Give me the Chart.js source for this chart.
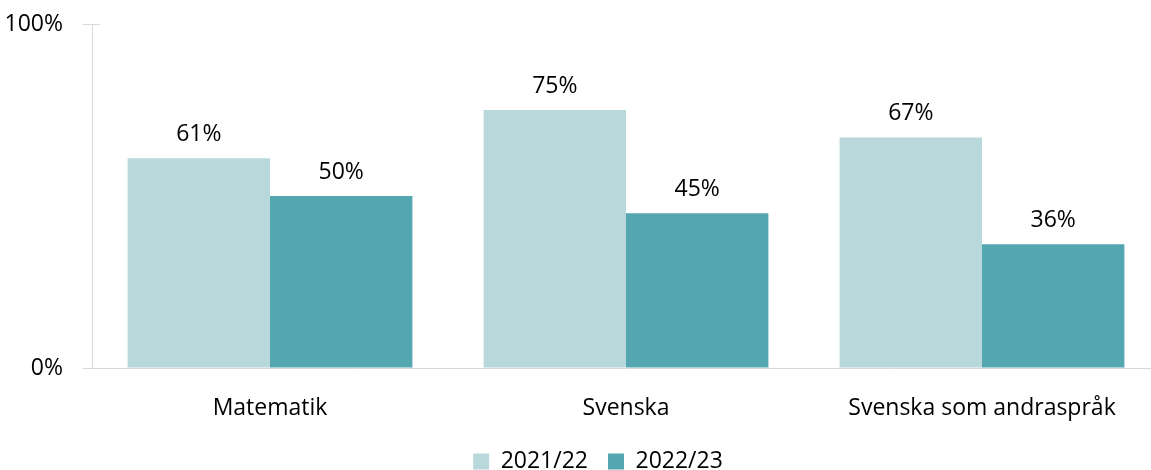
<!DOCTYPE html>
<html>
<head>
<meta charset="utf-8">
<script src="https://cdn.jsdelivr.net/npm/chart.js@4"></script>
<style>
html,body{margin:0;padding:0;background:#fff;overflow:hidden;}
#wrap{width:1196px;height:470px;position:relative;}
</style>
</head>
<body>
<div id="wrap"><canvas id="c"></canvas></div>
<script>
const categories = ["Matematik", "Svenska", "Svenska som andraspråk"];
const seriesNames = ["2021/22", "2022/23"];
const values2021 = [61, 75, 67];
const values2022 = [50, 45, 36];
const yTicks = [0, 100];

const FONT = "'Open Sans', sans-serif";
const FS = 23;

const valueLabels = {
  id: 'valueLabels',
  afterDatasetsDraw(chart) {
    const ctx = chart.ctx;
    ctx.save();
    ctx.font = FS + 'px ' + FONT;
    ctx.fillStyle = '#000';
    ctx.textAlign = 'center';
    ctx.textBaseline = 'middle';
    chart.data.datasets.forEach((ds, i) => {
      const meta = chart.getDatasetMeta(i);
      meta.data.forEach((bar, j) => {
        ctx.fillText(ds.data[j] + '%', bar.x, bar.y - 24);
      });
    });
    ctx.restore();
  }
};
const topTick = {
  id: 'topTick',
  afterDraw(chart) {
    const y = chart.scales.y;
    const ctx = chart.ctx;
    const py = Math.round(y.getPixelForValue(100)) + 0.5;
    ctx.save();
    ctx.strokeStyle = '#d9d9d9';
    ctx.lineWidth = 1;
    ctx.beginPath();
    ctx.moveTo(y.right - 9, py);
    ctx.lineTo(y.right + 8, py);
    ctx.stroke();
    ctx.restore();
  }
};

new Chart(document.getElementById('c'), {
  type: 'bar',
  data: {
    labels: categories,
    datasets: [
      { label: seriesNames[0], data: values2021, backgroundColor: '#B8D8DC' },
      { label: seriesNames[1], data: values2022, backgroundColor: '#54A7B1' }
    ]
  },
  options: {
    responsive: true,
    maintainAspectRatio: false,
    animation: false,
    categoryPercentage: 0.8,
    barPercentage: 1.0,
    layout: { padding: { top: 24, right: 0, left: 0, bottom: -13 } },
    plugins: {
      legend: {
        position: 'bottom',
        labels: {
          font: { family: FONT, size: FS },
          color: '#000',
          boxWidth: 16,
          boxHeight: 16,
          padding: 20
        }
      },
      tooltip: { enabled: false }
    },
    scales: {
      x: {
        grid: { display: true, drawOnChartArea: false, drawTicks: false, color: '#d9d9d9' },
        border: { color: '#d9d9d9' },
        ticks: { font: { family: FONT, size: FS }, color: '#000', padding: 27 },
        afterFit(s) { s.height = 62; s.paddingLeft = 0; s.paddingRight = 0; }
      },
      y: {
        min: 0, max: 100,
        afterBuildTicks(s) { s.ticks = yTicks.map(v => ({ value: v })); },
        grid: { drawOnChartArea: false, tickLength: 9, color: '#d9d9d9' },
        border: { color: '#d9d9d9' },
        ticks: { font: { family: FONT, size: FS }, color: '#000', padding: 20, callback: v => v + '%' },
        afterFit(s) { s.width = 92; s.paddingTop = 0; s.paddingBottom = 0; }
      },
      spacer: {
        type: 'linear',
        position: 'right',
        display: true,
        grid: { display: false },
        border: { display: false },
        ticks: { display: false },
        afterFit(s) { s.width = 36; s.paddingTop = 0; s.paddingBottom = 0; }
      }
    }
  },
  plugins: [valueLabels, topTick]
});
</script>
</body>
</html>
